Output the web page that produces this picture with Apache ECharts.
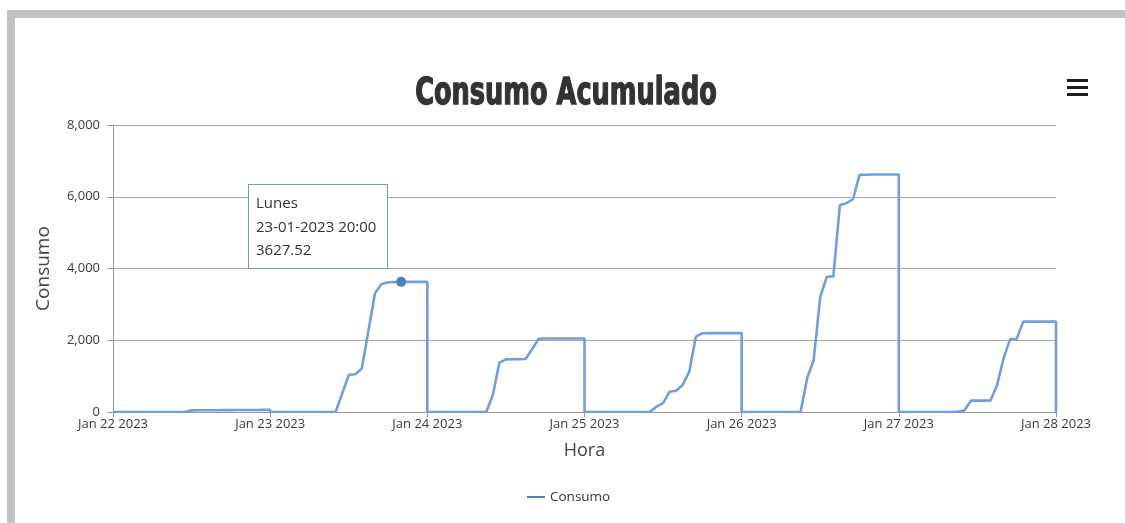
<!DOCTYPE html>
<html>
<head>
<meta charset="utf-8">
<title>Consumo Acumulado</title>
<script src="https://cdn.jsdelivr.net/npm/echarts@6/dist/echarts.min.js"></script>
<style>
  html, body { margin: 0; padding: 0; background: #ffffff; }
  #chart { width: 1125px; height: 523px; }
</style>
</head>
<body>
<div id="chart"></div>
<script>
// Days shown on the chart (local dates, one reading per hour).
const dayDates = [
  [2023, 0, 22], [2023, 0, 23], [2023, 0, 24],
  [2023, 0, 25], [2023, 0, 26], [2023, 0, 27]
];

// Accumulated consumption per day, hours 00:00 .. 24:00 (25 readings).
// The counter restarts at 0 every midnight.
const consumo22 = [0,0,0,0,0,0,0,0,0,0,0,0,45,47,48,50,50,52,53,54,55,56,57,58,58];
const consumo23 = [0,0,0,0,0,0,0,0,0,0,0,520,1030,1050,1220,2260,3310,3570,3615,3622,3627.52,3627.52,3627.52,3627.52,3627.52];
const consumo24 = [0,0,0,0,0,0,0,0,0,0,474,1375,1468,1470,1472,1478,1750,2040,2050,2050,2050,2050,2050,2050,2050];
const consumo25 = [0,0,0,0,0,0,0,0,0,0,0,150,245,565,590,755,1125,2100,2195,2200,2200,2200,2200,2200,2200];
const consumo26 = [0,0,0,0,0,0,0,0,0,0,940,1450,3210,3770,3780,5770,5820,5930,6610,6615,6620,6620,6620,6620,6620];
const consumo27 = [0,0,0,0,0,0,0,0,0,10,40,316,316,318,320,750,1500,2030,2040,2520,2520,2520,2520,2520,2520];
const consumoDias = [consumo22, consumo23, consumo24, consumo25, consumo26, consumo27];

// Reading at the close of the range (Jan 28 00:00, counter reset).
const consumoFinal = 0;

// Y axis ticks.
const yTicks = [0, 2000, 4000, 6000, 8000];

const monthShort = ['Jan','Feb','Mar','Apr','May','Jun','Jul','Aug','Sep','Oct','Nov','Dec'];
const diasSemana = ['Domingo','Lunes','Martes','Miércoles','Jueves','Viernes','Sábado'];

// x is counted in hours from the first day at 00:00.
const seriesData = [];
consumoDias.forEach((vals, d) => {
  vals.forEach((v, h) => seriesData.push([d * 24 + h, v]));
});
seriesData.push([dayDates.length * 24, consumoFinal]);

function dateAt(hours) {
  const [y, m, d] = dayDates[0];
  return new Date(y, m, d, hours, 0, 0);
}
function pad(n) { return (n < 10 ? '0' : '') + n; }

// Reading highlighted by the tooltip: Jan 23, 20:00.
const tipIndex = 25 * 1 + 20;

const chart = echarts.init(document.getElementById('chart'), null, { renderer: 'canvas' });

const labelFont = "'Open Sans', 'Noto Sans', sans-serif";

chart.setOption({
  animation: false,
  backgroundColor: '#ffffff',
  graphic: [
    // panel frame
    { type: 'rect', shape: { x: 7, y: 10, width: 1118, height: 8 }, style: { fill: '#c2c2c2' }, silent: true },
    { type: 'rect', shape: { x: 7, y: 10, width: 8, height: 513 }, style: { fill: '#c2c2c2' }, silent: true },
    // condensed heavy title
    {
      type: 'text',
      x: 566, y: 76,
      scaleX: 0.77, scaleY: 1,
      silent: true,
      style: {
        text: 'Consumo Acumulado',
        x: 0, y: 0,
        textAlign: 'center',
        textVerticalAlign: 'top',
        font: "bold 37px 'DejaVu Sans Condensed', 'DejaVu Sans', sans-serif",
        fill: '#333333',
        stroke: '#333333',
        lineWidth: 1.3
      }
    },
    // menu icon
    { type: 'rect', shape: { x: 1067, y: 79, width: 21, height: 3 }, style: { fill: '#1e1e1e' }, silent: true },
    { type: 'rect', shape: { x: 1067, y: 86, width: 21, height: 3 }, style: { fill: '#1e1e1e' }, silent: true },
    { type: 'rect', shape: { x: 1067, y: 93, width: 21, height: 3 }, style: { fill: '#1e1e1e' }, silent: true }
  ],
  grid: { left: 113, right: 69, top: 125, bottom: 111, containLabel: false },
  legend: {
    left: 522,
    top: 485,
    icon: 'rect',
    itemWidth: 18,
    itemHeight: 2,
    itemGap: 10,
    textStyle: { fontFamily: labelFont, fontSize: 13.5, color: '#333333' },
    data: ['Consumo']
  },
  tooltip: {
    trigger: 'axis',
    alwaysShowContent: true,
    axisPointer: { type: 'none' },
    position: [248, 184],
    backgroundColor: '#ffffff',
    borderColor: '#6f96cf',
    borderWidth: 1,
    padding: [6, 7],
    textStyle: { fontFamily: labelFont, fontSize: 15, color: '#333333', lineHeight: 23 },
    extraCssText: 'box-shadow:none;border-radius:0;width:124px;line-height:23.5px;',
    formatter: function (params) {
      const p = params[0];
      const t = dateAt(p.value[0]);
      return diasSemana[t.getDay()] + '<br>' +
        pad(t.getDate()) + '-' + pad(t.getMonth() + 1) + '-' + t.getFullYear() + ' ' +
        pad(t.getHours()) + ':' + pad(t.getMinutes()) + '<br>' + p.value[1];
    }
  },
  xAxis: {
    type: 'value',
    min: 0,
    max: dayDates.length * 24,
    interval: 24,
    name: 'Hora',
    nameLocation: 'middle',
    nameGap: 30,
    nameTextStyle: { fontFamily: labelFont, fontSize: 18, color: '#444444', verticalAlign: 'top' },
    axisLine: { show: true, lineStyle: { color: '#999999', width: 1 } },
    axisTick: { show: true, length: 5, lineStyle: { color: '#999999' } },
    splitLine: { show: false },
    axisLabel: {
      fontFamily: labelFont, fontSize: 13, color: '#3a3a3a', margin: 6,
      showMinLabel: true, showMaxLabel: true,
      formatter: function (v) {
        const t = dateAt(v);
        return monthShort[t.getMonth()] + ' ' + t.getDate() + ' ' + t.getFullYear();
      }
    }
  },
  yAxis: {
    type: 'value',
    min: yTicks[0],
    max: yTicks[yTicks.length - 1],
    interval: yTicks[1] - yTicks[0],
    name: 'Consumo',
    nameLocation: 'middle',
    nameGap: 60,
    nameTextStyle: { fontFamily: labelFont, fontSize: 19, color: '#444444' },
    axisLine: { show: true, lineStyle: { color: '#999999', width: 1 } },
    axisTick: { show: true, length: 6, lineStyle: { color: '#999999' } },
    splitLine: { show: true, lineStyle: { color: '#a6a6a6', width: 1 } },
    axisLabel: {
      fontFamily: labelFont, fontSize: 13, color: '#3a3a3a', margin: 13,
      formatter: function (v) { return v.toLocaleString('en-US'); }
    }
  },
  series: [{
    name: 'Consumo',
    type: 'line',
    data: seriesData,
    showSymbol: false,
    symbol: 'circle',
    symbolSize: 10,
    itemStyle: { color: '#4f80c4' },
    lineStyle: { color: '#6690cc', width: 2.6 },
    emphasis: { scale: 1, lineStyle: { width: 2.6 } }
  }]
});

chart.dispatchAction({ type: 'showTip', seriesIndex: 0, dataIndex: tipIndex });
</script>
</body>
</html>
